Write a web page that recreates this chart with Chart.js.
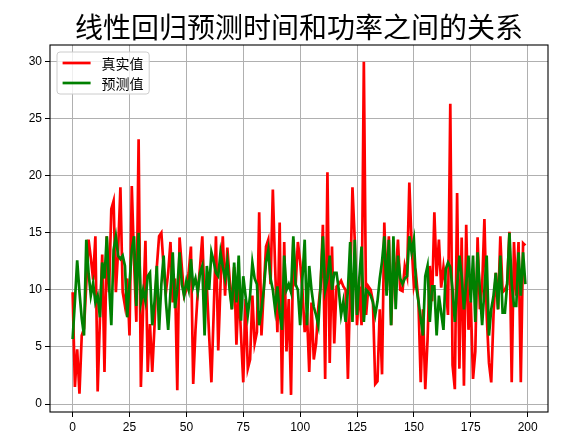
<!DOCTYPE html>
<html>
<head>
<meta charset="utf-8">
<script src="https://cdn.jsdelivr.net/npm/chart.js@4.4.1/dist/chart.umd.min.js"></script>
<style>
  html, body { margin: 0; padding: 0; background: #ffffff; }
  #wrap { width: 572px; height: 443px; position: relative; }
</style>
</head>
<body>
<div id="wrap"><canvas id="c" width="572" height="443"></canvas></div>
<script>
const chartTitle = '线性回归预测时间和功率之间的关系';
const seriesNames = ['真实值', '预测值'];
const xTicks = [0, 25, 50, 75, 100, 125, 150, 175, 200];
const yTicks = [0, 5, 10, 15, 20, 25, 30];

const actual = [
  9.8, 1.5, 4.8, 0.9, 6.0, 6.6, 10.5, 14.4, 12.8, 10.9,
  14.7, 1.1, 7.5, 13.1, 2.8, 14.7, 9.8, 17.1, 17.8, 9.8,
  13.5, 19.0, 9.8, 8.6, 11.0, 6.0, 19.1, 12.5, 7.2, 23.2,
  1.5, 8.5, 14.3, 2.8, 7.0, 2.8, 6.9, 12.0, 14.7, 15.0,
  12.0, 9.8, 11.5, 14.2, 8.9, 11.0, 1.2, 14.6, 12.0, 9.5,
  10.0, 11.5, 13.8, 1.75, 6.5, 9.8, 12.0, 14.7, 8.9, 10.3,
  6.0, 1.9, 8.0, 14.7, 4.7, 10.5, 14.7, 9.5, 13.7, 11.0,
  8.3, 12.0, 5.2, 10.3, 6.1, 1.9, 9.2, 3.1, 3.9, 9.5,
  5.3, 6.3, 16.8, 6.0, 10.0, 13.8, 14.4, 10.5, 18.8, 12.0,
  6.3, 15.9, 0.9, 14.2, 4.6, 9.2, 0.8, 14.4, 10.3, 14.2,
  12.5, 10.0, 6.3, 8.0, 2.8, 8.9, 3.9, 5.3, 8.5, 10.3,
  15.7, 2.2, 20.3, 3.6, 13.8, 5.3, 10.3, 10.5, 10.8, 10.3,
  10.0, 2.2, 10.3, 19.0, 14.4, 6.9, 10.3, 6.9, 30.0, 7.8,
  10.3, 10.0, 9.0, 1.75, 2.0, 8.3, 2.6, 15.9, 10.0, 14.7,
  6.9, 12.7, 11.0, 14.4, 10.0, 9.9, 12.1, 11.2, 19.4, 14.0,
  10.3, 11.2, 9.0, 1.9, 8.3, 1.3, 5.6, 12.1, 9.0, 16.8,
  11.2, 14.4, 10.2, 12.0, 10.3, 7.8, 26.3, 3.4, 1.3, 18.5,
  3.1, 14.6, 1.6, 15.7, 6.5, 9.0, 2.2, 4.6, 14.6, 8.3,
  10.3, 16.2, 7.8, 3.6, 1.9, 7.8, 11.5, 8.3, 14.7, 9.8,
  10.0, 10.5, 15.1, 1.9, 14.2, 9.5, 14.2, 1.9, 14.1, 13.9
];

const predicted = [
  5.7, 9.0, 12.6, 9.8, 7.5, 6.0, 14.4, 11.5, 9.5, 10.6,
  8.9, 9.5, 7.6, 12.4, 11.0, 14.7, 10.5, 6.9, 13.5, 14.7,
  13.0, 12.7, 13.0, 12.1, 7.6, 10.5, 13.5, 14.7, 8.6, 15.0,
  8.9, 10.0, 9.0, 11.2, 11.5, 6.9, 9.0, 12.1, 6.5, 10.5,
  13.0, 9.0, 6.5, 9.8, 13.3, 8.4, 10.0, 13.3, 10.5, 9.5,
  10.8, 10.0, 12.7, 10.3, 11.0, 9.8, 11.5, 12.1, 6.0, 12.1,
  10.0, 13.3, 12.5, 11.5, 11.2, 13.3, 12.0, 11.0, 12.5, 10.0,
  8.3, 12.4, 8.9, 13.0, 7.3, 11.2, 9.5, 7.8, 9.5, 12.4,
  11.0, 10.5, 6.9, 8.3, 10.0, 12.4, 13.5, 11.0, 10.0, 8.3,
  10.3, 8.0, 6.5, 13.0, 10.0, 10.5, 9.8, 14.7, 10.5, 10.0,
  6.9, 11.0, 14.4, 6.9, 12.1, 10.0, 8.5, 7.8, 6.9, 10.5,
  14.7, 10.0, 11.0, 13.0, 10.0, 11.5, 11.5, 10.0, 7.8, 9.0,
  7.2, 10.0, 14.2, 7.2, 14.4, 7.8, 11.0, 13.8, 7.2, 10.0,
  9.8, 9.5, 8.9, 7.8, 9.0, 11.0, 12.5, 14.7, 9.5, 14.4,
  6.9, 14.7, 8.3, 13.0, 11.0, 10.5, 11.0, 11.2, 14.7, 13.3,
  14.4, 10.3, 9.0, 7.5, 6.0, 11.2, 12.1, 7.2, 10.3, 10.3,
  6.0, 9.5, 8.0, 6.5, 11.8, 12.4, 12.0, 10.0, 7.2, 10.3,
  13.0, 11.2, 8.3, 10.5, 13.0, 8.9, 13.0, 7.2, 13.3, 10.0,
  6.9, 10.0, 13.0, 6.0, 8.3, 9.5, 11.5, 8.3, 13.0, 8.0,
  8.0, 10.5, 15.0, 10.5, 8.6, 8.6, 13.3, 9.5, 13.3, 10.5
];

const indices = actual.map((_, i) => i);
const colors = ['#ff0000', '#008000'];

const CJK = '"Noto Sans CJK SC", "Noto Sans", sans-serif';

const framePlugin = {
  id: 'frameAndDecor',
  afterDraw(chart) {
    const ctx = chart.ctx;
    const a = chart.chartArea;
    ctx.save();
    // axes frame
    ctx.strokeStyle = '#000000';
    ctx.lineWidth = 1.1;
    ctx.strokeRect(a.left, a.top, a.right - a.left, a.bottom - a.top);

    // title
    ctx.fillStyle = '#000000';
    ctx.font = '28px ' + CJK;
    ctx.textAlign = 'center';
    ctx.textBaseline = 'alphabetic';
    ctx.fillText(chartTitle, (a.left + a.right) / 2, a.top - 7);

    // legend
    const fs = 14;
    ctx.font = fs + 'px ' + CJK;
    const bx = a.left + 7, by = a.top + 7;
    const textW = Math.max(...seriesNames.map(s => ctx.measureText(s).width));
    const bw = 5.6 + 28 + 11 + textW + 5.6;
    const bh = 42;
    const r = 3;
    ctx.beginPath();
    ctx.moveTo(bx + r, by);
    ctx.lineTo(bx + bw - r, by);
    ctx.arcTo(bx + bw, by, bx + bw, by + r, r);
    ctx.lineTo(bx + bw, by + bh - r);
    ctx.arcTo(bx + bw, by + bh, bx + bw - r, by + bh, r);
    ctx.lineTo(bx + r, by + bh);
    ctx.arcTo(bx, by + bh, bx, by + bh - r, r);
    ctx.lineTo(bx, by + r);
    ctx.arcTo(bx, by, bx + r, by, r);
    ctx.closePath();
    ctx.fillStyle = 'rgba(255,255,255,0.8)';
    ctx.fill();
    ctx.strokeStyle = '#cccccc';
    ctx.lineWidth = 1;
    ctx.stroke();

    seriesNames.forEach((name, i) => {
      const ly = by + 11 + i * 20;
      ctx.beginPath();
      ctx.moveTo(bx + 5.6, ly);
      ctx.lineTo(bx + 5.6 + 28, ly);
      ctx.strokeStyle = colors[i];
      ctx.lineWidth = 2.7;
      ctx.stroke();
      ctx.fillStyle = '#000000';
      ctx.textAlign = 'left';
      ctx.textBaseline = 'middle';
      ctx.fillText(name, bx + 5.6 + 28 + 11, ly + 1);
    });
    ctx.restore();
  }
};

new Chart(document.getElementById('c'), {
  type: 'line',
  data: {
    datasets: [
      {
        label: seriesNames[0],
        data: indices.map((x, i) => ({ x: x, y: actual[i] })),
        borderColor: colors[0],
        borderWidth: 2.7,
        pointRadius: 0,
        tension: 0,
        fill: false,
        order: 1
      },
      {
        label: seriesNames[1],
        data: indices.map((x, i) => ({ x: x, y: predicted[i] })),
        borderColor: colors[1],
        borderWidth: 2.7,
        pointRadius: 0,
        tension: 0,
        fill: false,
        order: 0
      }
    ]
  },
  options: {
    responsive: false,
    animation: false,
    devicePixelRatio: 1,
    layout: { padding: { top: 45, right: 24, left: 0, bottom: 0 } },
    plugins: {
      legend: { display: false },
      title: { display: false },
      tooltip: { enabled: false }
    },
    scales: {
      x: {
        type: 'linear',
        min: -9.95,
        max: 208.95,
        afterBuildTicks: (scale) => { scale.ticks = xTicks.map(v => ({ value: v })); },
        afterFit: (scale) => { scale.height = 31; },
        grid: { color: '#b0b0b0', lineWidth: 1, tickColor: '#000000', tickLength: 5, tickWidth: 1 },
        border: { display: false },
        ticks: { color: '#000000', padding: 3, maxRotation: 0, font: { family: '"Liberation Sans", Arial, sans-serif', size: 12 } }
      },
      y: {
        type: 'linear',
        min: -0.7,
        max: 31.46,
        afterBuildTicks: (scale) => { scale.ticks = yTicks.map(v => ({ value: v })); },
        afterFit: (scale) => { scale.width = 50; },
        grid: { color: '#b0b0b0', lineWidth: 1, tickColor: '#000000', tickLength: 5, tickWidth: 1 },
        border: { display: false },
        ticks: { color: '#000000', padding: 3, font: { family: '"Liberation Sans", Arial, sans-serif', size: 12 } }
      }
    }
  },
  plugins: [framePlugin]
});
</script>
</body>
</html>
